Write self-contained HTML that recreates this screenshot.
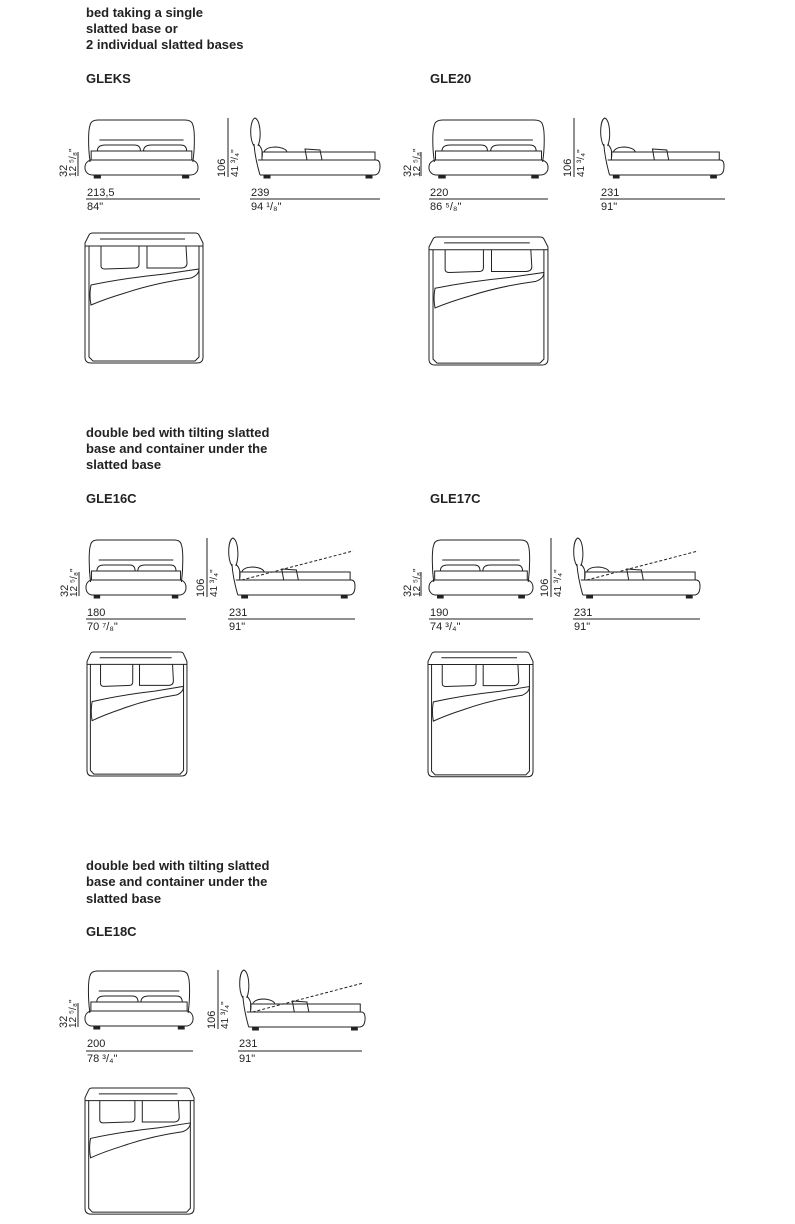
<!DOCTYPE html>
<html><head><meta charset="utf-8"><style>
html,body{margin:0;padding:0;background:#fff;}
svg{display:block;}
text{font-family:"Liberation Sans",Arial,sans-serif;fill:#222;}
.h{font-size:13px;font-weight:bold;}
.d{font-size:11px;}
.s{fill:none;stroke:#222;stroke-width:1;}
.s *{vector-effect:non-scaling-stroke;}
</style></head><body>
<svg width="795" height="1224" viewBox="0 0 795 1224" xmlns="http://www.w3.org/2000/svg">
<defs>
<g id="front" class="s">
  <path d="M5,42 C3,28 3,10 5,5 Q6,0 13,0 L97,0 Q104,0 105,5 C107,10 107,28 105,42"/>
  <rect x="0" y="40" width="110" height="15" rx="7"/>
  <rect x="6" y="31" width="98" height="9"/>
  <line x1="14" y1="20" x2="96" y2="20"/>
  <path d="M12,31 Q12,25 20,25 L48,25 Q54,25 54,31"/>
  <path d="M57,31 Q57,25 65,25 L93,25 Q99,25 99,31"/>
  <rect x="9" y="55" width="6" height="3" fill="#222"/>
  <rect x="95" y="55" width="6" height="3" fill="#222"/>
</g>
<g id="side" class="s">
  <path d="M4,28 C-1,20 0,2 5,0 C10,2 12,18 8,28"/>
  <path d="M4,26 C5,40 8,50 10,57 M8,26 C12,30 13,34 12,40"/>
  <rect x="12" y="34" width="113" height="8"/>
  <path d="M8,42 L126,42 Q130,42 130,48 Q130,57 124,57 L10,57"/>
  <path d="M14,34 Q16,29 26,29 Q36,30 37,34"/>
  <path d="M55,31 L70,32 L72,42 L57,42 Z"/>
  <rect x="14" y="57" width="6" height="3" fill="#222"/>
  <rect x="116" y="57" width="6" height="3" fill="#222"/>
</g>
<g id="tilt" class="s">
  <line x1="14" y1="42" x2="128" y2="13" stroke-dasharray="3,2"/>
</g>
<g id="top" class="s">
  <path d="M0,10 L4,2 Q5,0 8,0 L110,0 Q113,0 114,2 L118,10 L118,124 Q118,130 112,130 L6,130 Q0,130 0,124 Z"/>
  <line x1="0" y1="13" x2="118" y2="13"/>
  <line x1="15" y1="6" x2="100" y2="6"/>
  <path d="M4,13 L4,124 L8,128 L110,128 L114,124 L114,13"/>
  <path d="M16,13 L16,33 Q16,36 20,36 L50,35 Q54,35 54,31 L54,13"/>
  <path d="M62,13 L62,35 L96,35 Q102,35 102,30 L101,13"/>
  <path d="M6,52 Q40,45 80,41 Q100,38 114,36 Q114,42 106,45 Q70,50 40,60 Q20,66 6,72 Q4,62 6,52 Z"/>
</g>
</defs>

<text class="h" x="86" y="17">bed taking a single</text>
<text class="h" x="86" y="33">slatted base or</text>
<text class="h" x="86" y="49">2 individual slatted bases</text>
<text class="h" x="86" y="83">GLEKS</text>
<text class="h" x="430" y="83">GLE20</text>

<text class="h" x="86" y="437">double bed with tilting slatted</text>
<text class="h" x="86" y="453">base and container under the</text>
<text class="h" x="86" y="469">slatted base</text>
<text class="h" x="86" y="503">GLE16C</text>
<text class="h" x="430" y="503">GLE17C</text>

<text class="h" x="86" y="870">double bed with tilting slatted</text>
<text class="h" x="86" y="886">base and container under the</text>
<text class="h" x="86" y="903">slatted base</text>
<text class="h" x="86" y="936">GLE18C</text>

<!-- GLEKS -->
<use href="#front" transform="translate(85,120) scale(1.027,1)"/>
<use href="#side" transform="translate(250,118)"/>
<use href="#top" transform="translate(85,233) scale(1,1.0)"/>
<line class="s" x1="78" y1="152" x2="78" y2="176"/>
<text class="d" transform="translate(67,177) rotate(-90)">32</text>
<text class="d" transform="translate(76,177) rotate(-90)" style="font-size:10px">12 ⁵/₈"</text>
<line class="s" x1="228" y1="118" x2="228" y2="177"/>
<text class="d" transform="translate(225,177) rotate(-90)">106</text>
<text class="d" transform="translate(238,177) rotate(-90)" style="font-size:10px">41 ³/₄"</text>
<text class="d" x="87" y="196">213,5</text>
<line class="s" x1="86" y1="199" x2="200" y2="199"/>
<text class="d" x="87" y="210">84"</text>
<text class="d" x="251" y="196">239</text>
<line class="s" x1="250" y1="199" x2="380" y2="199"/>
<text class="d" x="251" y="210">94 ¹/₈"</text>

<!-- GLE20 -->
<use href="#front" transform="translate(429,120) scale(1.082,1)"/>
<use href="#side" transform="translate(600,118) scale(0.954,1)"/>
<use href="#top" transform="translate(429,237) scale(1.008,0.985)"/>
<line class="s" x1="421" y1="152" x2="421" y2="176"/>
<text class="d" transform="translate(411,177) rotate(-90)">32</text>
<text class="d" transform="translate(420,177) rotate(-90)" style="font-size:10px">12 ⁵/₈"</text>
<line class="s" x1="574" y1="118" x2="574" y2="177"/>
<text class="d" transform="translate(571,177) rotate(-90)">106</text>
<text class="d" transform="translate(584,177) rotate(-90)" style="font-size:10px">41 ³/₄"</text>
<text class="d" x="430" y="196">220</text>
<line class="s" x1="429" y1="199" x2="548" y2="199"/>
<text class="d" x="430" y="210">86 ⁵/₈"</text>
<text class="d" x="601" y="196">231</text>
<line class="s" x1="600" y1="199" x2="725" y2="199"/>
<text class="d" x="601" y="210">91"</text>

<!-- GLE16C -->
<use href="#front" transform="translate(86,540) scale(0.909,1)"/>
<use href="#side" transform="translate(228,538) scale(0.977,1)"/>
<use href="#tilt" transform="translate(228,538) scale(0.977,1)"/>
<use href="#top" transform="translate(87,652) scale(0.847,0.954)"/>
<line class="s" x1="79" y1="572" x2="79" y2="596"/>
<text class="d" transform="translate(68,597) rotate(-90)">32</text>
<text class="d" transform="translate(77,597) rotate(-90)" style="font-size:10px">12 ⁵/₈"</text>
<line class="s" x1="207" y1="538" x2="207" y2="597"/>
<text class="d" transform="translate(204,597) rotate(-90)">106</text>
<text class="d" transform="translate(217,597) rotate(-90)" style="font-size:10px">41 ³/₄"</text>
<text class="d" x="87" y="616">180</text>
<line class="s" x1="86" y1="619" x2="186" y2="619"/>
<text class="d" x="87" y="630">70 ⁷/₈"</text>
<text class="d" x="229" y="616">231</text>
<line class="s" x1="228" y1="619" x2="355" y2="619"/>
<text class="d" x="229" y="630">91"</text>

<!-- GLE17C -->
<use href="#front" transform="translate(429,540) scale(0.945,1)"/>
<use href="#side" transform="translate(573,538) scale(0.977,1)"/>
<use href="#tilt" transform="translate(573,538) scale(0.977,1)"/>
<use href="#top" transform="translate(428,652) scale(0.89,0.96)"/>
<line class="s" x1="421" y1="572" x2="421" y2="596"/>
<text class="d" transform="translate(411,597) rotate(-90)">32</text>
<text class="d" transform="translate(420,597) rotate(-90)" style="font-size:10px">12 ⁵/₈"</text>
<line class="s" x1="551" y1="538" x2="551" y2="597"/>
<text class="d" transform="translate(548,597) rotate(-90)">106</text>
<text class="d" transform="translate(561,597) rotate(-90)" style="font-size:10px">41 ³/₄"</text>
<text class="d" x="430" y="616">190</text>
<line class="s" x1="429" y1="619" x2="533" y2="619"/>
<text class="d" x="430" y="630">74 ³/₄"</text>
<text class="d" x="574" y="616">231</text>
<line class="s" x1="573" y1="619" x2="700" y2="619"/>
<text class="d" x="574" y="630">91"</text>

<!-- GLE18C -->
<use href="#front" transform="translate(85,971) scale(0.982,1)"/>
<use href="#side" transform="translate(239,970) scale(0.97,1)"/>
<use href="#tilt" transform="translate(239,970) scale(0.97,1)"/>
<use href="#top" transform="translate(85,1088) scale(0.924,0.97)"/>
<line class="s" x1="78" y1="1003" x2="78" y2="1027"/>
<text class="d" transform="translate(67,1028) rotate(-90)">32</text>
<text class="d" transform="translate(76,1028) rotate(-90)" style="font-size:10px">12 ⁵/₈"</text>
<line class="s" x1="218" y1="970" x2="218" y2="1029"/>
<text class="d" transform="translate(215,1029) rotate(-90)">106</text>
<text class="d" transform="translate(228,1029) rotate(-90)" style="font-size:10px">41 ³/₄"</text>
<text class="d" x="87" y="1047">200</text>
<line class="s" x1="86" y1="1051" x2="193" y2="1051"/>
<text class="d" x="87" y="1062">78 ³/₄"</text>
<text class="d" x="239" y="1047">231</text>
<line class="s" x1="238" y1="1051" x2="362" y2="1051"/>
<text class="d" x="239" y="1062">91"</text>
</svg>
</body></html>
